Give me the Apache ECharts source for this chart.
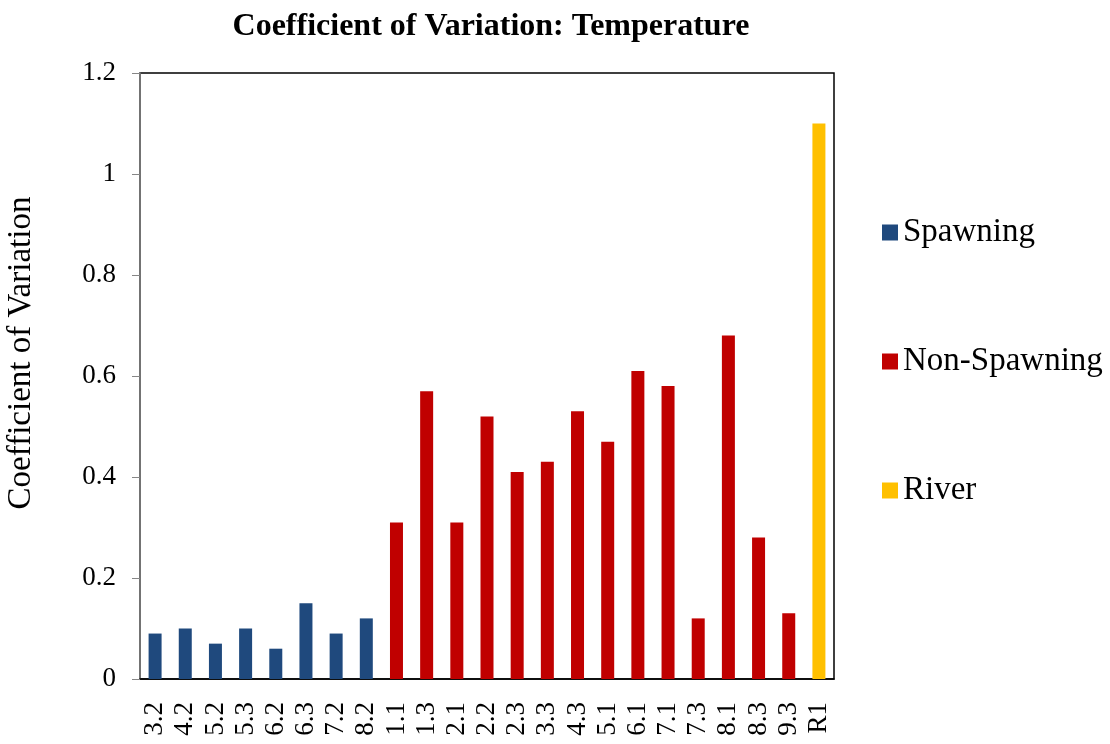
<!DOCTYPE html>
<html>
<head>
<meta charset="utf-8">
<script src="https://cdn.jsdelivr.net/npm/echarts@6/dist/echarts.min.js"></script>
<style>
  html, body { margin: 0; padding: 0; background: #fff; }
  #main { width: 1110px; height: 744px; }
</style>
</head>
<body>
<div id="main"></div>
<script>
var categories = ['3.2','4.2','5.2','5.3','6.2','6.3','7.2','8.2','1.1','1.3','2.1','2.2','2.3','3.3','4.3','5.1','6.1','7.1','7.3','8.1','8.3','9.3','R1'];
var spawning = [0.09, 0.10, 0.07, 0.10, 0.06, 0.15, 0.09, 0.12, '-', '-', '-', '-', '-', '-', '-', '-', '-', '-', '-', '-', '-', '-', '-'];
var nonSpawning = ['-', '-', '-', '-', '-', '-', '-', '-', 0.31, 0.57, 0.31, 0.52, 0.41, 0.43, 0.53, 0.47, 0.61, 0.58, 0.12, 0.68, 0.28, 0.13, '-'];
var river = ['-', '-', '-', '-', '-', '-', '-', '-', '-', '-', '-', '-', '-', '-', '-', '-', '-', '-', '-', '-', '-', '-', 1.10];

var chartDom = document.getElementById('main');
var myChart = echarts.init(chartDom);
var font = 'Liberation Serif';
var option;

option = {
  backgroundColor: '#fff',
  animation: false,
  title: {
    text: 'Coefficient of Variation: Temperature',
    left: 486,
    textAlign: 'center',
    top: 6,
    textStyle: {
      fontFamily: font,
      fontWeight: 'bold',
      fontSize: 32,
      color: '#000'
    }
  },
  legend: {
    orient: 'vertical',
    left: 877,
    top: 211,
    itemGap: 96,
    itemWidth: 16,
    itemHeight: 16,
    icon: 'rect',
    textStyle: {
      fontFamily: font,
      fontSize: 33,
      color: '#000'
    },
    data: ['Spawning', 'Non-Spawning', 'River']
  },
  grid: {
    left: 140,
    right: 276,
    top: 73,
    bottom: 65,
    outerBoundsMode: 'none',
    containLabel: false,
    show: true,
    borderColor: '#000',
    borderWidth: 1.5
  },
  xAxis: {
    type: 'category',
    data: categories,
    axisTick: { show: false },
    axisLine: { lineStyle: { color: '#000', width: 1.5 } },
    axisLabel: {
      rotate: 90,
      interval: 0,
      margin: 23,
      fontFamily: font,
      fontSize: 27,
      color: '#000'
    }
  },
  yAxis: {
    type: 'value',
    min: 0,
    max: 1.2,
    interval: 0.2,
    name: 'Coefficient of Variation',
    nameLocation: 'middle',
    nameGap: 102,
    nameTextStyle: {
      fontFamily: font,
      fontSize: 33,
      color: '#000',
      padding: [0, 0, 0, 46]
    },
    splitLine: { show: false },
    axisLine: { show: true, lineStyle: { color: '#868686', width: 1.5 } },
    axisTick: { show: true, length: 8, lineStyle: { color: '#868686' } },
    axisLabel: {
      margin: 24,
      fontFamily: font,
      fontSize: 27,
      color: '#000'
    }
  },
  series: [
    {
      name: 'Spawning',
      type: 'bar',
      stack: 'total',
      barWidth: 13,
      data: spawning,
      itemStyle: { color: '#1F497D' }
    },
    {
      name: 'Non-Spawning',
      type: 'bar',
      stack: 'total',
      barWidth: 13,
      data: nonSpawning,
      itemStyle: { color: '#C00000' }
    },
    {
      name: 'River',
      type: 'bar',
      stack: 'total',
      barWidth: 13,
      data: river,
      itemStyle: { color: '#FFC000' }
    }
  ]
};

option && myChart.setOption(option);
</script>
</body>
</html>
